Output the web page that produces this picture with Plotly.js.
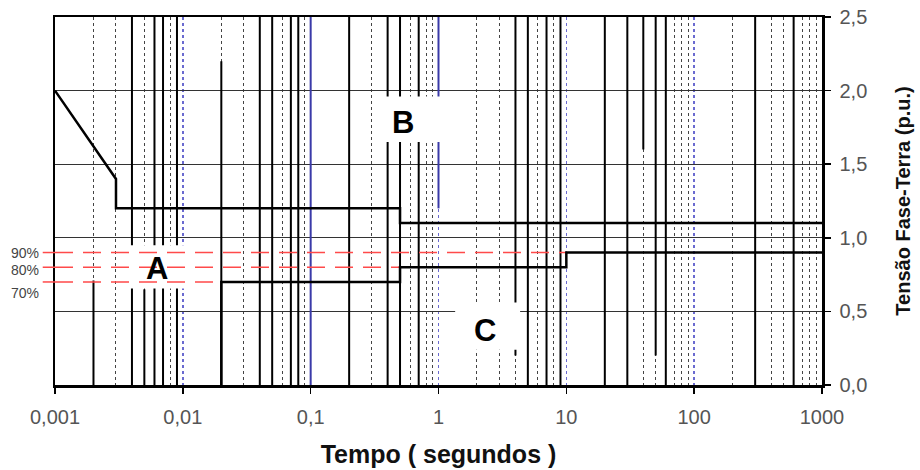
<!DOCTYPE html>
<html><head><meta charset="utf-8">
<script src="https://cdn.plot.ly/plotly-3.0.1.min.js"></script>
<style>html,body{margin:0;padding:0;background:#fff}#chart{width:920px;height:470px}</style>
</head><body><div id="chart"></div>
<script>
// ---- data ----
const upperX = [0.001, 0.003, 0.003, 0.5, 0.5, 1000];
const upperY = [2.0, 1.4, 1.2, 1.2, 1.1, 1.1];
const lowerX = [0.02, 0.02, 0.5, 0.5, 10, 10, 1000];
const lowerY = [0, 0.7, 0.7, 0.8, 0.8, 0.9, 0.9];
const refLevels = [0.9, 0.8, 0.7];
const refLabels = ['90%', '80%', '70%'];
const refEnds = [10, 0.5, 0.02];
const refStart = 0.001;
const regionLabels = ['A', 'B', 'C'];
const regionX = [0.0063, 0.53, 2.3];
const regionY = [0.79, 1.78, 0.37];
const xTickVals = [0.001, 0.01, 0.1, 1, 10, 100, 1000];
const xTickText = ['0,001', '0,01', '0,1', '1', '10', '100', '1000'];
const yTickVals = [0, 0.5, 1, 1.5, 2, 2.5];
const yTickText = ['0,0', '0,5', '1,0', '1,5', '2,0', '2,5'];

// ---- decoration (grid styling of the original sheet) ----
const minorVals = [];
for (let e = -3; e < 3; e++) for (let d = 2; d <= 9; d++) minorVals.push(d * Math.pow(10, e));
const solidFull = [0.004, 0.006, 0.007, 0.009, 0.04, 0.05, 0.07, 0.08, 0.2, 0.4, 0.5, 0.7,
                   5, 7, 9, 20, 30, 60, 300, 600];
const solidPart = [[0.002, 0, 0.71], [0.005, 0, 0.65], [0.02, 0, 2.2], [4, 0.2, 2.5], [40, 1.6, 2.5], [50, 0.2, 2.5]];
const blueSolid = [[0.1, 0, 2.5], [1, 1.2, 2.5]];
const whiteBoxes = [[0.00353, 0.0114, 0.655, 0.95], [0.349, 1.12, 1.65, 1.96], [1.35, 4.35, 0.24, 0.56]];
const labelShift = [0, -3, -11];

const shapes = [];
solidFull.forEach(v => shapes.push({type: 'line', layer: 'between', xref: 'x', yref: 'y', x0: v, x1: v, y0: 0, y1: 2.5, line: {color: '#000', width: 2}}));
solidPart.forEach(s => shapes.push({type: 'line', layer: 'between', xref: 'x', yref: 'y', x0: s[0], x1: s[0], y0: s[1], y1: s[2], line: {color: '#000', width: 2}}));
blueSolid.forEach(s => shapes.push({type: 'line', layer: 'between', xref: 'x', yref: 'y', x0: s[0], x1: s[0], y0: s[1], y1: s[2], line: {color: '#3a3aa8', width: 2}}));
whiteBoxes.forEach(b => shapes.push({type: 'rect', layer: 'between', xref: 'x', yref: 'y', x0: b[0], x1: b[1], y0: b[2], y1: b[3], fillcolor: '#fff', line: {width: 0}}));
refLevels.forEach(l => shapes.push({type: 'line', xref: 'paper', yref: 'paper', x0: -0.016, x1: 0, y0: l / 2.5, y1: l / 2.5, line: {color: '#ff4a4a', width: 1.5}}));

const traces = [];
refLevels.forEach((l, i) => traces.push({x: [refStart, refEnds[i]], y: [l, l], mode: 'lines', line: {color: '#ff4a4a', width: 1.5, dash: '18px,10px'}, hoverinfo: 'skip'}));
traces.push({x: upperX, y: upperY, mode: 'lines', line: {color: '#000', width: 2.5}});
traces.push({x: lowerX, y: lowerY, mode: 'lines', line: {color: '#000', width: 2.5}});

const annotations = [];
regionLabels.forEach((t, i) => annotations.push({x: Math.log10(regionX[i]), y: regionY[i], xref: 'x', yref: 'y', text: '<b>' + t + '</b>', showarrow: false, font: {size: 31, color: '#000', family: 'Liberation Sans, Arial, sans-serif'}}));
refLabels.forEach((t, i) => annotations.push({x: -0.0183, y: refLevels[i], xref: 'paper', yref: 'y', xanchor: 'right', yanchor: 'middle', yshift: labelShift[i], text: t, showarrow: false, font: {size: 14, color: '#444', family: 'Liberation Sans, Arial, sans-serif'}}));

const layout = {
  width: 920, height: 470,
  margin: {l: 55, r: 98, t: 17, b: 85},
  paper_bgcolor: '#fff', plot_bgcolor: '#fff',
  showlegend: false,
  font: {family: 'Liberation Sans, Arial, sans-serif', color: '#555', size: 16},
  xaxis: {
    type: 'log', range: [-3, 3],
    tickmode: 'array', tickvals: xTickVals, ticktext: xTickText,
    ticks: 'outside', ticklen: 6, tickcolor: '#000', tickwidth: 1.5,
    showgrid: true, gridcolor: '#6a6ad0', griddash: 'dot', gridwidth: 1.5,
    minor: {tickmode: 'array', tickvals: minorVals, showgrid: true, gridcolor: '#444', griddash: 'dot', gridwidth: 1, ticks: ''},
    showline: true, mirror: true, linecolor: '#000', linewidth: 2.5,
    zeroline: false, ticklabelstandoff: 6,
    tickfont: {size: 20, color: '#555'},
    title: {text: '<b>Tempo ( segundos )</b>', font: {size: 25, color: '#111'}, standoff: 19}
  },
  yaxis: {
    side: 'right', range: [0, 2.5],
    tickmode: 'array', tickvals: yTickVals, ticktext: yTickText,
    ticks: 'outside', ticklen: 6, tickcolor: '#000', tickwidth: 1.5,
    showgrid: true, gridcolor: '#333', gridwidth: 1.3,
    showline: true, mirror: true, linecolor: '#000', linewidth: 2.5,
    zeroline: false, ticklabelstandoff: 5,
    tickfont: {size: 20, color: '#555'},
    title: {text: '<b>Tensão Fase-Terra (p.u.)</b>', font: {size: 20, color: '#111'}, standoff: 30}
  },
  shapes: shapes,
  annotations: annotations
};
Plotly.newPlot('chart', traces, layout, {displayModeBar: false, staticPlot: true});
</script>
</body></html>
